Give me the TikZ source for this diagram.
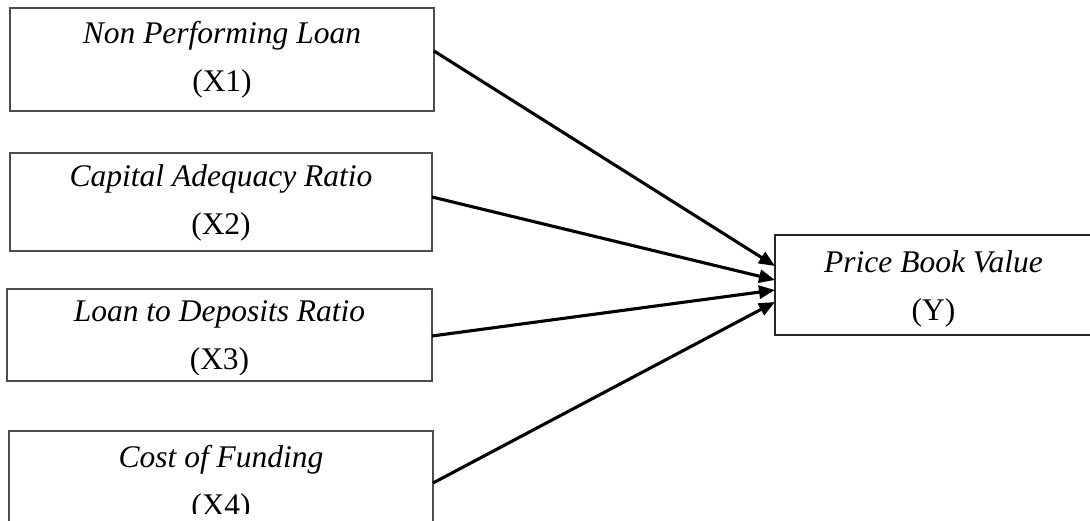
\documentclass[tikz,border=0pt]{standalone}
\usepackage{fontspec}
\setmainfont{Liberation Serif}
\usetikzlibrary{arrows.meta}
\begin{document}
\begin{tikzpicture}[x=1pt,y=-1pt,
  box/.style={draw=black!70, line width=1.2pt, inner sep=0pt, outer sep=0pt},
  lbl/.style={align=center, font=\fontsize{31.5}{48}\selectfont, inner sep=0pt},
  conn/.style={line width=3.1pt, -{Triangle[length=16pt,width=13pt]}}
]
\useasboundingbox (0,0) rectangle (1090,521);
\clip (0,0) rectangle (1090,521);
% boxes
\node[box, minimum width=424pt, minimum height=103pt] (x1) at (222,59.5) {};
\node[box, minimum width=422pt, minimum height=98pt] (x2) at (221,202) {};
\node[box, minimum width=425pt, minimum height=92pt] (x3) at (219.5,335) {};
\node[box, minimum width=424pt, minimum height=102pt] (x4) at (221,482) {};
\node[box, draw=black!85, minimum width=317pt, minimum height=100pt] (y) at (933.5,285) {};
% labels
\node[lbl] (x1t) at (x1.center) {\textit{Non Performing Loan}\\(X1)};
\node[lbl] (x2t) at ([yshift=-0.5pt]x2.center) {\textit{Capital Adequacy Ratio}\\(X2)};
\begin{scope}
\clip (0,0) rectangle (1090,374);
\node[lbl] (x3t) at ([yshift=-3pt]x3.center) {\textit{Loan to Deposits Ratio}\\(X3)};
\end{scope}
\begin{scope}
\clip (0,0) rectangle (1090,513);
\node[lbl] (x4t) at ([yshift=-1.5pt]x4.center) {\textit{Cost of Funding}\\(X4)};
\end{scope}
\node[lbl] (yt) at ([yshift=-4pt]y.center) {\textit{Price Book Value}\\(Y)};
% connectors
\draw[conn] ([yshift=8.5pt]x1.east) -- ([yshift=19pt]y.west);
\draw[conn] ([yshift=5pt]x2.east) -- ([yshift=5pt]y.west);
\draw[conn] ([yshift=-1pt]x3.east) -- ([yshift=-5pt]y.west);
\draw[conn] ([yshift=-1pt]x4.east) -- ([yshift=-17pt]y.west);
\end{tikzpicture}
\end{document}
